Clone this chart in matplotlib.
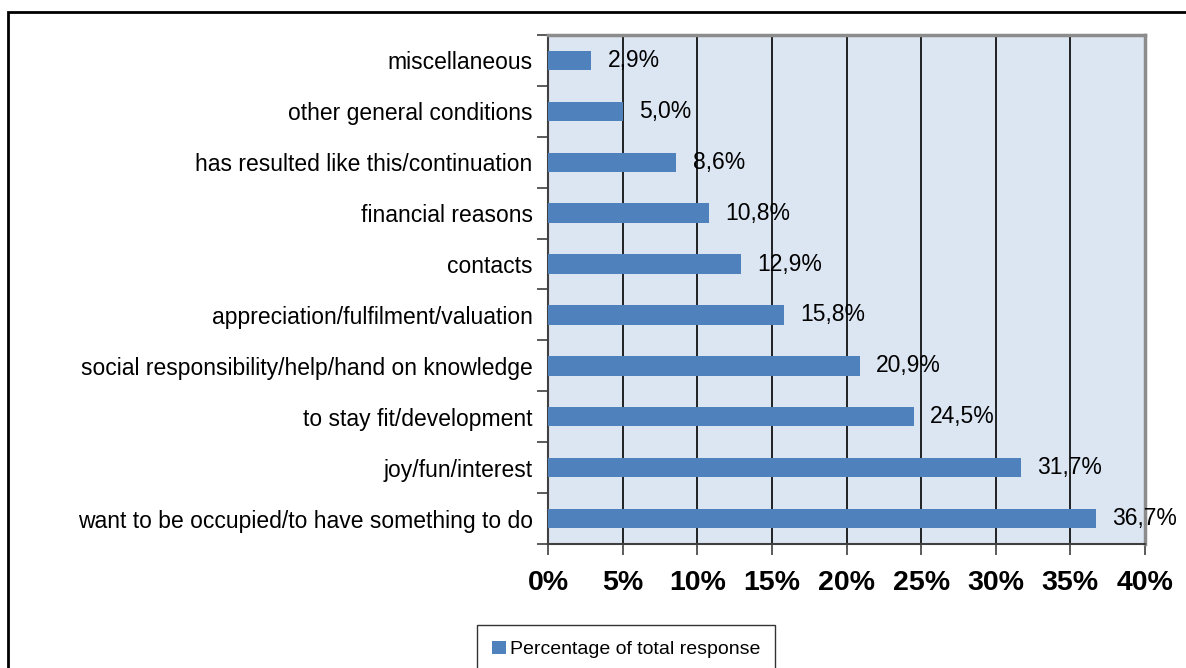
import matplotlib.pyplot as plt
from matplotlib.patches import Rectangle

plt.rcParams['font.family'] = ['Liberation Sans', 'DejaVu Sans']

# categories (bottom to top) and values
categories = ['want to be occupied/to have something to do',
              'joy/fun/interest',
              'to stay fit/development',
              'social responsibility/help/hand on knowledge',
              'appreciation/fulfilment/valuation',
              'contacts',
              'financial reasons',
              'has resulted like this/continuation',
              'other general conditions',
              'miscellaneous']
values = [36.7, 31.7, 24.5, 20.9, 15.8, 12.9, 10.8, 8.6, 5.0, 2.9]
xticks = [0, 5, 10, 15, 20, 25, 30, 35, 40]

fig = plt.figure(figsize=(11.86, 6.68), dpi=100)
ax = fig.add_axes([548 / 1186, 1 - 544 / 668, 597 / 1186, 509 / 668])

# outer chart border (cut off at right and bottom like the reference)
fig.patches.append(Rectangle((7.5 / 1186, -0.1), 1.2, 1 - 12 / 668 + 0.1,
                             transform=fig.transFigure, fill=False,
                             edgecolor='black', linewidth=2, zorder=0))

ax.set_facecolor('#DCE6F2')
ypos = range(len(categories))
bars = ax.barh(ypos, values, height=0.38, color='#4F81BD',
               label='Percentage of total response', zorder=3)

for y, v in zip(ypos, values):
    ax.text(v + 1.1, y, ('%.1f%%' % v).replace('.', ','), va='center',
            ha='left', fontsize=16.5, color='black', zorder=4)

ax.set_xlim(0, 40)
ax.set_ylim(-0.5, len(categories) - 0.5)
ax.set_xticks(xticks)
ax.set_xticklabels(['%d%%' % t for t in xticks], fontsize=20.5, fontweight='bold')
ax.set_yticks(list(ypos))
ax.set_yticklabels(categories, fontsize=16.5)
ax.set_yticks([i - 0.5 for i in range(len(categories) + 1)], minor=True)
ax.tick_params(axis='y', which='major', length=0, pad=11)
ax.tick_params(axis='y', which='minor', length=8, width=1.2, color='#404040')
ax.tick_params(axis='x', length=8, width=1.2, color='#404040', pad=11)

ax.grid(axis='x', color='black', linewidth=1.2, zorder=1)
ax.set_axisbelow(True)
for side in ['top', 'right']:
    ax.spines[side].set_color('#8C8C8C')
    ax.spines[side].set_linewidth(2.5)
for side in ['left', 'bottom']:
    ax.spines[side].set_color('#404040')
    ax.spines[side].set_linewidth(1.5)

leg = fig.legend(loc='upper center', bbox_to_anchor=(626 / 1186, 1 - 625 / 668),
                 fontsize=14, frameon=True, fancybox=False,
                 handlelength=0.7, handleheight=0.7, handletextpad=0.2,
                 borderpad=0.8, borderaxespad=0)
leg.get_frame().set_edgecolor('black')
leg.get_frame().set_linewidth(1)

fig.savefig('out.png', dpi=100)
